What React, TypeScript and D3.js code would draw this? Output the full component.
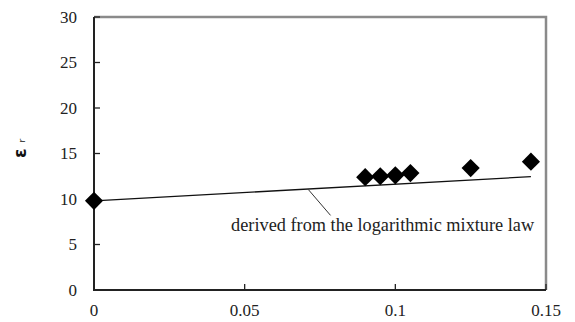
import React from 'react'
import * as d3 from 'd3'

// measured points (volume fraction vs relative permittivity)
const fraction = [0, 0.09, 0.095, 0.1, 0.105, 0.125, 0.145]
const permittivity = [9.8, 12.4, 12.5, 12.6, 12.85, 13.4, 14.1]

// logarithmic mixture law curve
const lawFraction = [0, 0.145]
const lawPermittivity = [9.8, 12.45]

const xTicks = [0, 0.05, 0.1, 0.15]
const yTicks = [0, 5, 10, 15, 20, 25, 30]
const noteText = 'derived from the logarithmic mixture law'

export default function App() {
  const width = 575, height = 322
  const margin = { top: 17, right: 29, bottom: 32, left: 94 }

  const x = d3.scaleLinear().domain([0, 0.15]).range([margin.left, width - margin.right])
  const y = d3.scaleLinear().domain([0, 30]).range([height - margin.bottom, margin.top])

  const line = d3.line<number>()
    .x((d, i) => x(lawFraction[i]))
    .y((d) => y(d))

  const diamond = d3.symbol().type(d3.symbolSquare).size(165)()
  const font = '"Liberation Serif", "Times New Roman", Times, serif'

  return (
    <div style={{ position: 'absolute', left: 0, top: 0 }}>
      <svg width={width} height={height} style={{ display: 'block', background: '#fff' }}>
        {/* frame top and right */}
        <path
          d={`M${x(0)},${y(30)}H${x(0.15)}V${y(0)}`}
          fill="none" stroke="#8a8a8a" strokeWidth={2.5}
        />
        {/* axes */}
        <path
          d={`M${x(0)},${y(30)}V${y(0)}H${x(0.15)}`}
          fill="none" stroke="#222" strokeWidth={2}
        />
        {yTicks.map(t => (
          <g key={'y' + t}>
            <line x1={x(0)} x2={x(0) + 6} y1={y(t)} y2={y(t)} stroke="#222" strokeWidth={1.3} />
            <text x={x(0) - 17} y={y(t)} dy="0.35em" textAnchor="end"
              style={{ fontFamily: font }} fontSize={17} fill="#222">{t}</text>
          </g>
        ))}
        {xTicks.map(t => (
          <g key={'x' + t}>
            <line x1={x(t)} x2={x(t)} y1={y(0)} y2={y(0) - 6} stroke="#222" strokeWidth={1.3} />
            <text x={x(t)} y={y(0) + 20} dy="0.35em" textAnchor="middle"
              style={{ fontFamily: font }} fontSize={17} fill="#222">{t}</text>
          </g>
        ))}

        {/* y label */}
        <text transform={`translate(26,${y(14.5)}) rotate(-90)`} style={{ fontFamily: 'DejaVu Sans, sans-serif' }} fill="#111">
          <tspan fontSize={17} fontWeight="bold">ε</tspan>
          <tspan fontSize={9} dx={6} dy={-1}>r</tspan>
        </text>

        <path d={line(lawPermittivity) || ''} fill="none" stroke="#111" strokeWidth={1.3} />

        {/* annotation */}
        <line x1={x(0.0711)} y1={y(11.05)} x2={x(0.0785)} y2={y(8.2)} stroke="#333" strokeWidth={1} />
        <text x={x(0.0455)} y={y(6.5)} style={{ fontFamily: font }} fontSize={18.3} fill="#222">{noteText}</text>

        {fraction.map((f, i) => (
          <path key={i} d={diamond || ''} transform={`translate(${x(f)},${y(permittivity[i])}) rotate(45)`} fill="#000" />
        ))}
      </svg>
    </div>
  )
}
